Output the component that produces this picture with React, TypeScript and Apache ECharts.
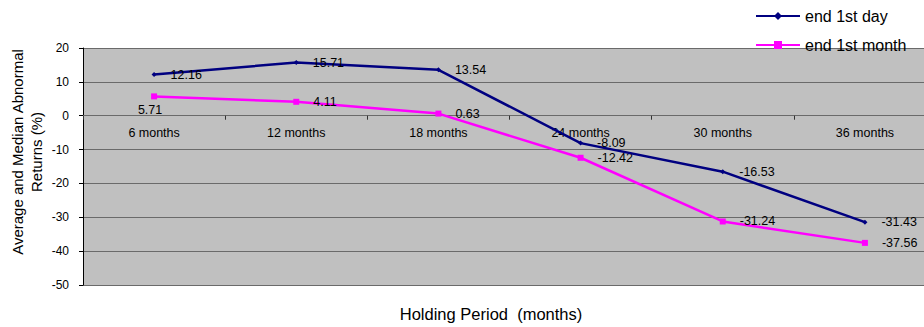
import React, { useEffect, useRef } from "react";
import * as echarts from "echarts";

const categories = ["6 months", "12 months", "18 months", "24 months", "30 months", "36 months"];
const endFirstDay = [12.16, 15.71, 13.54, -8.09, -16.53, -31.43];
const endFirstMonth = [5.71, 4.11, 0.63, -12.42, -31.24, -37.56];
const seriesNames = ["end 1st day", "end 1st month"];
const yAxisTitle = "Average and Median Abnormal\nReturns (%)";
const xAxisTitle = "Holding Period  (months)";
const yMin = -50;
const yMax = 20;

const FONT = "Liberation Sans, Arial, sans-serif";
const GRID_TOP = 48;
const GRID_BOTTOM = 42;
const CHART_W = 936; // plot runs past the right edge of the window
const CHART_H = 327;

export default function App() {
  const ref = useRef<HTMLDivElement>(null);

  useEffect(() => {
    if (!ref.current) return;
    const chart = echarts.init(ref.current, undefined, { renderer: "svg" });
    const labelFmt = (p: any) => Number(p.value).toFixed(2);

    // place the category axis on the zero line of the value axis
    const plotH = CHART_H - GRID_TOP - GRID_BOTTOM;
    const zeroFromBottom = (plotH * (0 - yMin)) / (yMax - yMin);

    chart.setOption({
      animation: false,
      textStyle: { fontFamily: FONT },
      legend: {
        orient: "vertical",
        left: 755,
        top: 8,
        padding: 0,
        itemWidth: 44,
        itemHeight: 10,
        itemGap: 13,
        textStyle: { fontFamily: FONT, fontSize: 16, color: "#000" },
        data: seriesNames,
      },
      grid: {
        left: 83,
        right: 0,
        top: GRID_TOP,
        bottom: GRID_BOTTOM,
        show: true,
        backgroundColor: "#C0C0C0",
        borderWidth: 0,
      },
      xAxis: {
        type: "category",
        data: categories,
        boundaryGap: true,
        position: "bottom",
        offset: -zeroFromBottom,
        axisLine: { onZero: false, lineStyle: { color: "#6a6a6a", width: 1 } },
        axisTick: { show: true, inside: false, length: 4, lineStyle: { color: "#333" } },
        axisLabel: { fontFamily: FONT, fontSize: 12.5, color: "#000", margin: 11 },
        splitLine: { show: false },
      },
      yAxis: {
        type: "value",
        min: yMin,
        max: yMax,
        interval: 10,
        axisLine: { show: true, lineStyle: { color: "#000", width: 1 } },
        axisTick: { show: true, length: 4, lineStyle: { color: "#000" } },
        axisLabel: { fontFamily: FONT, fontSize: 12, color: "#000", margin: 14 },
        splitLine: { show: true, lineStyle: { color: "#6a6a6a", width: 1 } },
      },
      graphic: [
        {
          type: "text",
          rotation: Math.PI / 2,
          x: 27,
          y: 152,
          style: {
            text: yAxisTitle,
            fontFamily: FONT,
            fontSize: 15,
            lineHeight: 19,
            fill: "#000",
            align: "center",
            verticalAlign: "middle",
          },
        },
        {
          type: "text",
          x: 491,
          y: 314,
          style: {
            text: xAxisTitle,
            fontFamily: FONT,
            fontSize: 16.5,
            fill: "#000",
            align: "center",
            verticalAlign: "middle",
          },
        },
      ],
      series: [
        {
          name: seriesNames[0],
          type: "line",
          data: endFirstDay,
          color: "#000080",
          lineStyle: { width: 2.5, color: "#000080" },
          symbol: "diamond",
          symbolSize: 5,
          itemStyle: { color: "#000080" },
          label: {
            show: true,
            position: "right",
            distance: 14,
            formatter: labelFmt,
            fontFamily: FONT,
            fontSize: 12.5,
            color: "#000",
          },
          z: 3,
        },
        {
          name: seriesNames[1],
          type: "line",
          data: endFirstMonth.map((v, i) =>
            i === 0
              ? { value: v, label: { position: "bottom", distance: 4, offset: [-4, 0] } }
              : v
          ),
          color: "#FF00FF",
          lineStyle: { width: 2.5, color: "#FF00FF" },
          symbol: "rect",
          symbolSize: 6,
          itemStyle: { color: "#FF00FF" },
          label: {
            show: true,
            position: "right",
            distance: 14,
            formatter: labelFmt,
            fontFamily: FONT,
            fontSize: 12.5,
            color: "#000",
          },
          z: 2,
        },
      ],
    });

    return () => chart.dispose();
  }, []);

  return (
    <div
      ref={ref}
      style={{ position: "fixed", left: 0, top: 0, width: CHART_W, height: CHART_H, background: "#fff" }}
    />
  );
}
